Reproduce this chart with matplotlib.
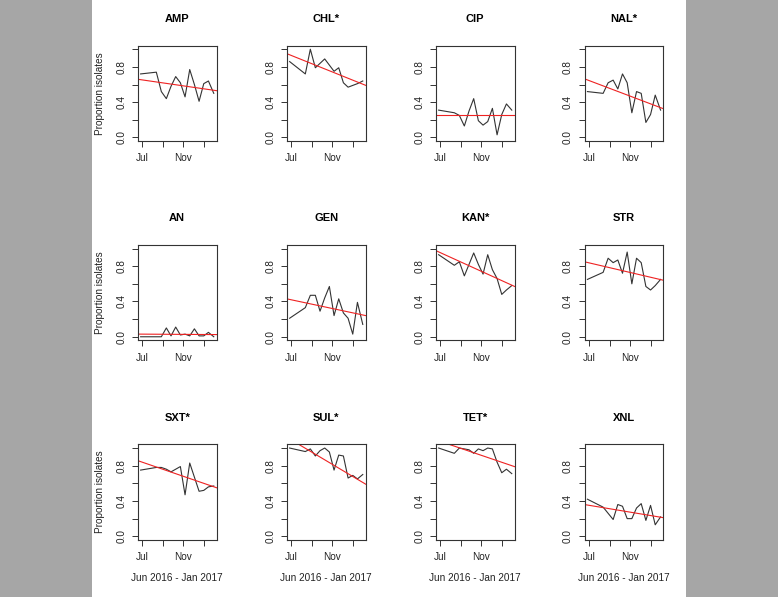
import numpy as np
import matplotlib
matplotlib.use("Agg")
import matplotlib.pyplot as plt
from matplotlib.patches import Rectangle

plt.rcParams['font.family'] = ['Liberation Sans', 'DejaVu Sans']

# sampling dates, days since 1 Jul 2016 (late Jun 2016 - end Jan 2017)
days = [-5, 42, 57, 72, 86, 100, 114, 128, 142, 156, 170, 184, 198, 214]

drugs = ["AMP", "CHL*", "CIP", "NAL*",
         "AN", "GEN", "KAN*", "STR",
         "SXT*", "SUL*", "TET*", "XNL"]

amp = [0.72, 0.74, 0.52, 0.44, 0.58, 0.69, 0.62, 0.46, 0.77, 0.60, 0.41, 0.61, 0.64, 0.50]
chl = [0.86, 0.72, 1.00, 0.79, 0.84, 0.89, 0.82, 0.75, 0.79, 0.62, 0.57, 0.59, 0.61, 0.64]
cip = [0.31, 0.28, 0.25, 0.13, 0.30, 0.44, 0.19, 0.14, 0.18, 0.33, 0.03, 0.26, 0.38, 0.31]
nal = [0.52, 0.50, 0.62, 0.65, 0.55, 0.72, 0.62, 0.28, 0.52, 0.50, 0.17, 0.26, 0.48, 0.31]
an = [0.00, 0.00, 0.00, 0.10, 0.01, 0.11, 0.02, 0.03, 0.01, 0.09, 0.01, 0.01, 0.05, 0.00]
gen = [0.21, 0.33, 0.47, 0.47, 0.29, 0.44, 0.57, 0.24, 0.43, 0.27, 0.21, 0.03, 0.39, 0.14]
kan = [0.93, 0.81, 0.85, 0.69, 0.82, 0.95, 0.82, 0.71, 0.93, 0.76, 0.66, 0.48, 0.53, 0.58]
strp = [0.65, 0.73, 0.89, 0.84, 0.87, 0.72, 0.96, 0.60, 0.89, 0.84, 0.57, 0.53, 0.58, 0.65]
sxt = [0.75, 0.78, 0.78, 0.76, 0.73, 0.76, 0.79, 0.47, 0.83, 0.67, 0.51, 0.52, 0.56, 0.57]
sul = [1.00, 0.96, 0.99, 0.91, 0.97, 1.00, 0.955, 0.75, 0.92, 0.91, 0.66, 0.69, 0.65, 0.70]
tet = [1.00, 0.94, 1.00, 0.99, 0.98, 0.94, 0.99, 0.97, 1.00, 0.99, 0.84, 0.72, 0.76, 0.71]
xnl = [0.42, 0.33, 0.26, 0.19, 0.36, 0.34, 0.20, 0.20, 0.32, 0.37, 0.18, 0.35, 0.13, 0.22]
series = [amp, chl, cip, nal, an, gen, kan, strp, sxt, sul, tet, xnl]

# linear trend, value at first and last sampling date
trend_first = [0.655, 0.937, 0.25, 0.652, 0.03, 0.423, 0.962, 0.842, 0.846, 1.103, 1.082, 0.354]
trend_last = [0.535, 0.604, 0.25, 0.338, 0.025, 0.247, 0.585, 0.648, 0.561, 0.61, 0.80, 0.216]

tick_days = [0, 62, 123, 184]
tick_labels = ["Jul", "", "Nov", ""]

W, H = 778, 597
fig = plt.figure(figsize=(W / 100, H / 100), dpi=100)
fig.patches.append(Rectangle((0, 0), 92 / W, 1, transform=fig.transFigure,
                             facecolor="#a6a6a6", edgecolor="none", zorder=-10))
fig.patches.append(Rectangle((686 / W, 0), 1, 1, transform=fig.transFigure,
                             facecolor="#a6a6a6", edgecolor="none", zorder=-10))

lefts = [137.7, 286.7, 435.7, 584.5]
tops = [45.7, 245.0, 444.5]
aw, ah = 79.0, 95.3

span = max(days) - min(days)
xlim = (min(days) - 0.04 * span, max(days) + 0.04 * span)

for i, name in enumerate(drugs):
    r, c = divmod(i, 4)
    ax = fig.add_axes([lefts[c] / W, 1 - (tops[r] + ah) / H, aw / W, ah / H])
    ax.plot(days, series[i], color="#333333", lw=0.8)
    ax.axline((days[0], trend_first[i]), (days[-1], trend_last[i]),
              color="#ee2222", lw=0.8)
    ax.set_xlim(xlim)
    ax.set_ylim(-0.04, 1.04)
    ax.set_xticks(tick_days)
    ax.set_xticklabels(tick_labels)
    ax.set_yticks([0, 0.2, 0.4, 0.6, 0.8, 1.0])
    ax.set_yticklabels(["0.0", "", "0.4", "", "0.8", ""], rotation=90, va="center")
    ax.tick_params(direction="out", length=4.3, width=0.7, color="#333333",
                   labelsize=7.2, labelcolor="#222222")
    ax.tick_params(axis="x", pad=4.5)
    ax.tick_params(axis="y", pad=4.0)
    for sp in ax.spines.values():
        sp.set_color("#333333")
        sp.set_linewidth(0.8)
    ax.set_title(name, fontsize=8, fontweight="bold", pad=17)
    if c == 0:
        ax.set_ylabel("Proportion isolates", fontsize=7.2, labelpad=8, color="#222222")
    if r == 2:
        ax.set_xlabel("Jun 2016 - Jan 2017", fontsize=7.2, labelpad=8, color="#222222")

fig.savefig("out.png", dpi=100)
